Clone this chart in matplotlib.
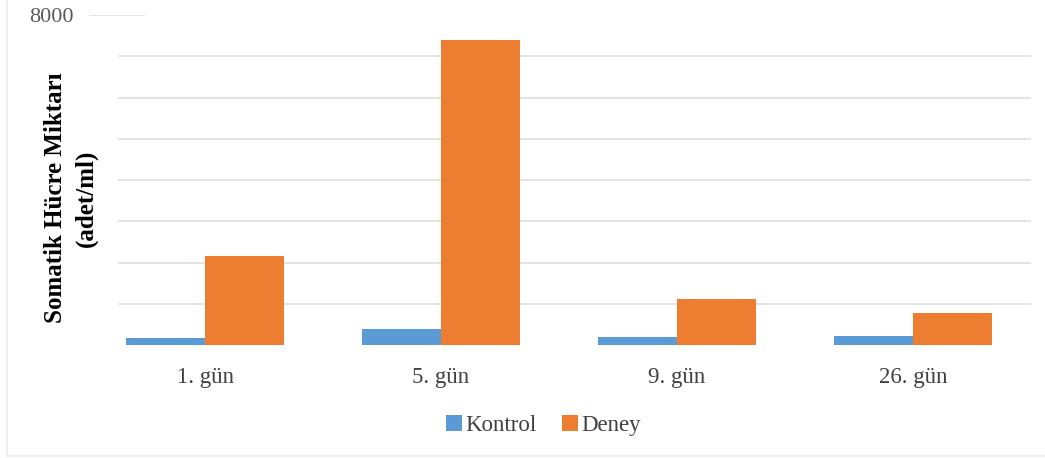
"""Somatic cell count bar chart"""

import numpy as np
import matplotlib.pyplot as plt

days = ['1. gün', '5. gün', '9. gün', '26. gün']
kontrol = [160, 380, 185, 225]
deney = [2150, 7400, 1115, 780]
series_names = ['Kontrol', 'Deney']
grid_levels = [1000, 2000, 3000, 4000, 5000, 6000, 7000]

plt.rcParams['font.family'] = ['Liberation Serif', 'DejaVu Serif']

fig = plt.figure(figsize=(10.45, 4.58), dpi=100)
ax = fig.add_axes([0.0833, 0.2467, 0.9033, 0.7203])

x = np.arange(len(days))
w = 0.333
ax.bar(x - w / 2, kontrol, w, color='#5B9BD5', label=series_names[0], zorder=3)
ax.bar(x + w / 2, deney, w, color='#ED7D31', label=series_names[1], zorder=3)

# light gridlines, the top one only shows next to its label
for lvl in grid_levels:
    ax.axhline(lvl, xmin=0.034, xmax=1, color='#dedede', linewidth=1.2, zorder=1)
ax.axhline(8000, xmin=0.003, xmax=0.06, color='#dedede', linewidth=1.2, zorder=1)

ax.set_xlim(-0.5, 3.5)
ax.set_ylim(0, 8000)
ax.set_xticks(x)
ax.set_xticklabels(days, fontsize=16.5, color='#404040')
ax.set_yticks([8000])
ax.set_yticklabels(['8000'], fontsize=16, color='#595959')
ax.tick_params(axis='both', length=0)
ax.tick_params(axis='x', pad=16)
ax.tick_params(axis='y', pad=10)
for s in ax.spines.values():
    s.set_visible(False)

fig.text(0.068, 0.568, 'Somatik Hücre Miktarı\n(adet/ml)', rotation=90,
         ha='center', va='center', multialignment='center',
         fontsize=18, fontweight='bold', linespacing=1.4)

fig.legend(loc='center', bbox_to_anchor=(0.52, 0.07), ncol=2, frameon=False,
           fontsize=16.5, handlelength=0.7, handleheight=0.7,
           handletextpad=0.15, columnspacing=1.1, labelcolor='#404040')

# faint outer frame of the chart area
fig.add_artist(plt.Line2D([0.007, 0.007], [0.004, 1], color='#eeeeee', linewidth=1.5))
fig.add_artist(plt.Line2D([0.007, 1], [0.004, 0.004], color='#eeeeee', linewidth=1.5))

fig.savefig('out.png', dpi=100)
